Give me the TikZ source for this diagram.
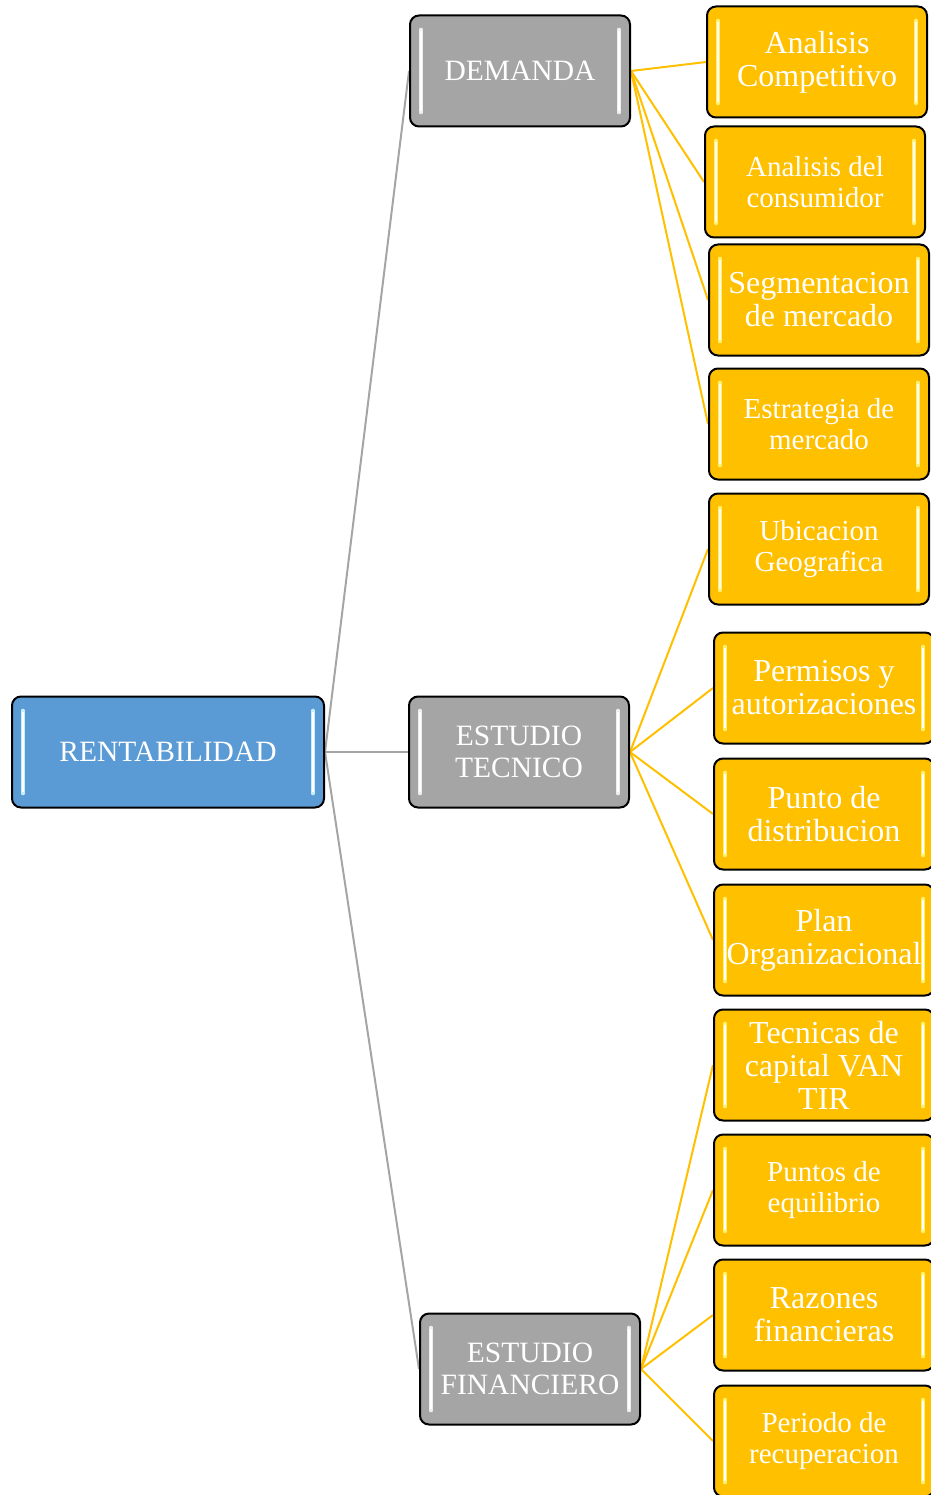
\documentclass[tikz,border=0pt]{standalone}
\usepackage{fontspec}
\setmainfont{Liberation Serif}
\usetikzlibrary{backgrounds}
\definecolor{boxBlue}{HTML}{5B9BD5}
\definecolor{boxGray}{HTML}{A5A5A5}
\definecolor{boxGold}{HTML}{FFC000}
\definecolor{shineBlue}{HTML}{C8EEFF}
\definecolor{shineGray}{HTML}{EEEEEE}
\definecolor{shineGold}{HTML}{FFF070}

\begin{document}
\begin{tikzpicture}
[x=1pt,y=-1pt,
  grayLine/.style={-,line width=2pt,draw=boxGray},%
  goldLine/.style={-,line width=2pt,draw=boxGold},
  boxDecorate/.style={shape=rectangle,rounded corners=9pt,draw=black,line width=2pt,
    text=white,align=center,inner sep=2pt,minimum height=111pt,minimum width=220pt,
    font=\fontsize{29.5}{32}\selectfont},
  shine/.style={path picture={
    \draw[#1,line width=3.6pt,line cap=round]
      ([xshift=11pt,yshift=-14pt]path picture bounding box.north west) --
      ([xshift=11pt,yshift=14pt]path picture bounding box.south west)
      ([xshift=-11pt,yshift=-14pt]path picture bounding box.north east) --
      ([xshift=-11pt,yshift=14pt]path picture bounding box.south east);
    \draw[white,line width=1.2pt,line cap=round]
      ([xshift=11pt,yshift=-16pt]path picture bounding box.north west) --
      ([xshift=11pt,yshift=16pt]path picture bounding box.south west)
      ([xshift=-11pt,yshift=-16pt]path picture bounding box.north east) --
      ([xshift=-11pt,yshift=16pt]path picture bounding box.south east);}},
  rootDecorate/.style={boxDecorate,fill=boxBlue,minimum width=312pt,shine=shineBlue},
  midDecorate/.style={boxDecorate,fill=boxGray,shine=shineGray},
  leafDecorate/.style={boxDecorate,fill=boxGold,shine=shineGold},
  fontBig/.style={font=\fontsize{32}{33}\selectfont},
  fontSmall/.style={font=\fontsize{29}{30.5}\selectfont}]
\useasboundingbox (0,0) rectangle (930,1495);
%% root and branches
\node (root) at (168,752) [rootDecorate] {RENTABILIDAD};
\node (demanda) at (520,71) [midDecorate] {DEMANDA};
\node (tecnico) at (519,752) [midDecorate] {ESTUDIO\\TECNICO};
\node (financiero) at (530,1369) [midDecorate] {ESTUDIO\\FINANCIERO};
%% leaves
\foreach \nodename/\x/\y/\size/\label in {
  a1/817/62/fontBig/{Analisis\\Competitivo},
  a2/815/182/fontSmall/{Analisis del\\consumidor},
  a3/819/300/fontBig/{Segmentacion\\de mercado},
  a4/819/424/fontSmall/{Estrategia de\\mercado},
  b1/819/549/fontSmall/{Ubicacion\\Geografica},
  b2/824/688/fontBig/{Permisos y\\autorizaciones},
  b3/824/814/fontBig/{Punto de\\distribucion},
  b4/824/940/fontBig/{Plan\\Organizacional},
  c1/824/1065/fontBig/{Tecnicas de\\capital VAN\\TIR},
  c2/824/1190/fontSmall/{Puntos de\\equilibrio},
  c3/824/1315/fontBig/{Razones\\financieras},
  c4/824/1441/fontSmall/{Periodo de\\recuperacion}}
{
  \node (\nodename) at (\x,\y) [leafDecorate,\size] {\label};
}
%% connectors
\begin{scope}[on background layer]
\path
\foreach \startnode/\endnode in {root/demanda, root/tecnico, root/financiero}
{
  (\startnode.east) edge[grayLine] (\endnode.west)
}
\foreach \startnode/\endnode in {
  demanda/a1, demanda/a2, demanda/a3, demanda/a4,
  tecnico/b1, tecnico/b2, tecnico/b3, tecnico/b4,
  financiero/c1, financiero/c2, financiero/c3, financiero/c4}
{
  (\startnode.east) edge[goldLine] (\endnode.west)
};
\end{scope}
\end{tikzpicture}
\end{document}
